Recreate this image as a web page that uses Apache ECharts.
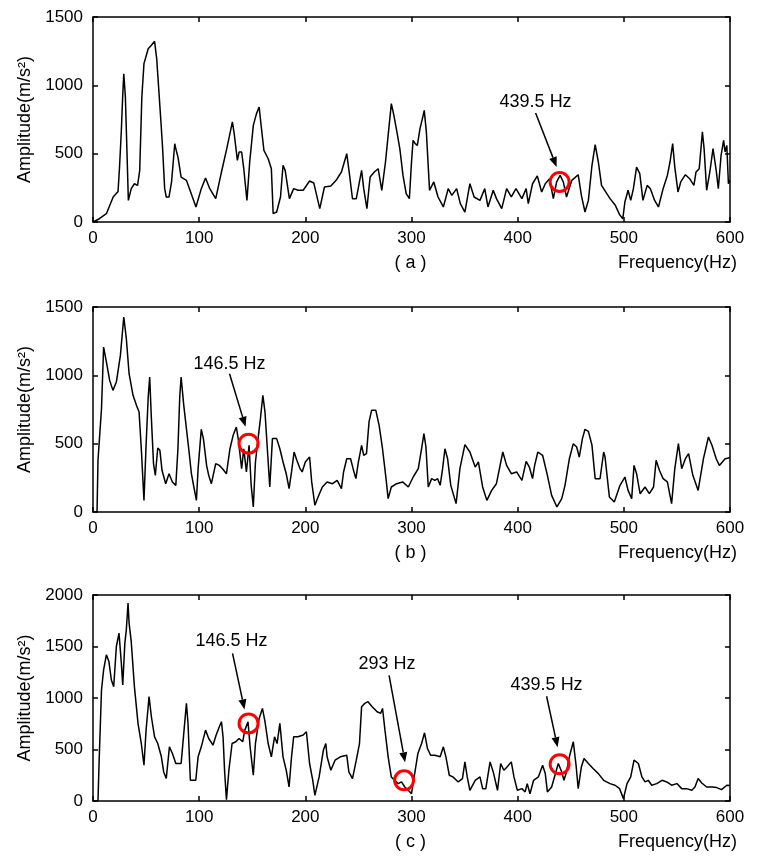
<!DOCTYPE html>
<html><head><meta charset="utf-8">
<script src="https://cdn.jsdelivr.net/npm/echarts@6/dist/echarts.min.js"></script>
<style>html,body{margin:0;padding:0;background:#fff}#c{width:761px;height:864px}</style>
</head><body><div id="c"></div>
<script>
// ---------- data ----------
const freqA=[0,6,12.6,19,23.6,25,26.7,28,29,30.5,32,33.3,36,39,42,44,46,48,52,55,58,60,62,64,65.5,67.5,69,71.6,74,77,78,80,83,88,97,102,106,110,115.6,121,126,131.3,133,136,137.6,140,142,145,147.6,151,154,156.5,158,161,165,168,169.7,173,176.6,179,181,185,189,193,198,204,208,213.6,218,224,229,234,239,241.3,244.4,248,253,255,258,261,265,268.6,272,275.5,278,281,283.4,286,289,292,295,298,300,301.5,303.5,305.5,308,311,312,314,317,321,325,330,334.6,338,342.5,346,350.3,355,359,364.5,369,372,377,380,385,389.6,394,398.4,404,408,410,414,418.5,422.6,426,430,433.6,436.7,440,443,446,451,457,460,463.4,466.6,470,473,476,479,484,487,492,496,499,501,504,506.5,509,512,515,518,522,525,529,532.6,537,541,543.5,546,548,551,553.6,558,562,566,568,571,574,575.6,578,581,584,587,589,591.6,594,595.4,597,598.5,600];
const ampA=[0,24,61,183,224,402,670,927,1085,915,512,158,244,280,268,378,915,1159,1268,1293,1322,1195,963,732,549,244,183,183,293,573,537,476,329,305,110,244,322,244,171,366,537,732,646,451,512,512,390,158,439,707,793,841,732,524,463,390,61,73,183,415,378,171,244,232,232,300,285,98,256,263,305,366,500,366,171,171,378,244,98,329,366,390,232,439,634,866,780,671,537,341,207,171,439,598,573,561,683,780,817,659,232,293,183,110,244,195,244,134,73,280,183,158,244,110,232,171,98,244,183,244,171,244,134,280,337,220,280,317,171,293,341,293,183,305,346,195,73,158,415,566,439,268,207,171,122,54,24,146,232,158,244,402,354,158,268,244,158,110,244,341,439,573,402,220,293,346,317,268,366,390,659,537,232,366,537,378,244,488,598,512,561,280,305];

const freqB=[3.8,4.7,8,10,12.6,15.7,18.8,22,25.8,29,31.4,34,37.7,41,43.4,45.5,48,50,52,53.4,55,57,58.7,61,63,65,68.5,71.6,74.8,78,80,81.7,83,85.5,88,90.5,92.7,95,97.4,99,102,104,107,109,111.5,115.6,119,122,125.7,129,132,135,137,140,142,144.5,147,149,151,153,155.5,157.7,160,162,164,166.5,169,173,176,179,182,184.7,187,189.4,192,195,197,200,204,206,209,212,216,220.5,225.6,230,234,236,239,242.6,245,247.6,250,253,255,257.6,260,262.4,266.4,269.5,272.7,276,278,281,286,291.6,297,301.6,306.4,309.5,311.7,313.6,315.8,319,322,324.6,327,329.3,331.5,334,337,342,345.6,350.3,355,360,363,367,371,375.5,380,386,389.6,394,399,404,408,411,414,416,419,423.5,428,432,437,441.5,444.6,448.7,452.4,455.6,458,461,463.4,466.6,470,473,477.6,481,482.3,486.4,491,496.4,501,504,507.4,509.6,512,515.3,520,524,528,530.4,533.5,537,541,545,548,551.4,554.5,558,561,565,570,575,579.7,583,587,590,595.4,598.5,600];
const ampB=[0,378,756,1207,1098,963,890,951,1146,1427,1268,1012,854,780,732,463,85,488,841,988,683,354,268,468,451,305,207,280,220,195,463,841,988,780,610,439,280,183,85,317,605,537,341,268,207,354,341,317,280,463,561,622,524,317,463,293,488,195,37,366,537,683,854,732,488,183,537,537,463,366,280,171,293,439,378,317,293,366,402,220,49,110,183,220,207,232,171,293,390,390,317,244,366,488,415,427,659,744,744,634,463,244,98,183,207,220,183,256,317,463,573,476,183,244,232,244,195,317,463,390,195,61,317,493,439,329,366,183,85,158,207,439,341,280,293,232,371,329,244,341,439,415,268,122,37,98,195,390,500,476,402,537,605,590,488,244,244,439,402,110,73,195,256,158,98,341,280,134,183,134,183,378,305,244,220,61,317,500,317,390,427,268,158,390,549,488,390,341,390,395,400];

const freqC=[4.7,5.7,8,10,12.6,15,17.3,19.5,22,24.5,26.7,28,30,31.4,33,34,36,39,42.4,45.5,48,50,52.8,55,58,61,64.4,66.6,69,72,74.8,78,83,85.5,88,89.5,91.7,96.8,99,102,106,109,113,116,119,121,122.5,124,125.7,128,131,134.5,137.6,141,143,146,148,151,153,156.5,159.6,162,165,168,171,173.4,176,179,182,184.7,187,189,193,198,201,204,207,209,213,217,219.3,220.5,224,228,233,239,241,244.4,248,251,253,256,259,263,267.6,271,272.7,275,278,281,284,287.5,290.6,293.7,297,300,303,306,309.5,312.3,315,318,322,327,330,332.4,335.6,339,344,348,350.3,352.5,355,360,364.5,367,370,374,377,381,384,387,390,394,396.5,399.7,404,407,409,411.6,415,419.5,423.5,426,428,432,436,438.3,441.5,443.6,446,448.7,452.4,455,457,460,462.5,466.6,471,476,481,487,491.7,496,499.6,503,506.5,509.6,513.7,517,520,523,526.3,531,536,540.4,545,550,554.5,559,564,567,570,573.4,578,583,587.5,592,597,600];
const ampC=[0,364,1078,1273,1419,1354,1175,1110,1500,1630,1338,1127,1533,1662,1922,1727,1549,1110,753,558,347,688,1013,818,623,558,429,282,218,526,461,364,364,656,948,753,201,201,429,526,688,607,542,640,721,770,623,282,13,299,558,575,607,575,688,770,526,250,558,802,899,770,558,429,623,558,753,429,299,136,429,623,623,640,672,364,201,55,234,494,558,429,299,396,429,445,282,218,396,558,916,948,964,916,867,851,899,688,429,234,201,169,185,136,104,71,266,461,558,662,510,445,445,429,526,429,250,234,185,218,380,234,104,201,234,120,120,380,282,104,364,299,331,380,234,104,120,88,169,71,201,234,347,266,88,136,282,364,282,201,282,429,575,347,120,331,412,364,315,266,201,169,153,120,23,169,234,396,364,234,185,201,153,169,201,185,153,169,120,120,104,136,218,175,136,136,130,110,153,150];

const xTicks=[0,100,200,300,400,500,600];
const yTicksAB=[0,500,1000,1500];
const yTicksC=[0,500,1000,1500,2000];
const panelLabels=['( a )','( b )','( c )'];
const xName='Frequency(Hz)';
const yName='Amplitude(m/s²)';

// annotations (data space)
const annFreqA=[439.5], annAmpA=[293], annTextA=['439.5 Hz'];
const annFreqB=[146.5], annAmpB=[500], annTextB=['146.5 Hz'];
const annFreqC=[146.5,293,439.5], annAmpC=[753,201,357], annTextC=['146.5 Hz','293 Hz','439.5 Hz'];

// ---------- layout (styles, pixel offsets) ----------
const FONT='Arial, "Liberation Sans", sans-serif';
const gridLayout=[
  {left:93,top:17,width:637,height:205},
  {left:93,top:307,width:637,height:205},
  {left:93,top:595,width:637,height:206}
];
// offsets relative to circle centre: text centre, arrow start, arrow tip
const annLayout=[
  [{tx:-24,ty:-80,sx:-24,sy:-69,ex:-3,ey:-15}],
  [{tx:-19,ty:-80,sx:-19,sy:-70,ex:-3,ey:-17}],
  [{tx:-17,ty:-82,sx:-16,sy:-70,ex:-4,ey:-14},
   {tx:-17,ty:-116,sx:-15,sy:-105,ex:1,ey:-18},
   {tx:-13,ty:-79,sx:-13,sy:-68,ex:-2,ey:-17}]
];

const seriesFreq=[freqA,freqB,freqC];
const seriesAmp=[ampA,ampB,ampC];
const annFreq=[annFreqA,annFreqB,annFreqC];
const annAmp=[annAmpA,annAmpB,annAmpC];
const annText=[annTextA,annTextB,annTextC];
const yTickSets=[yTicksAB,yTicksAB,yTicksC];

const chart=echarts.init(document.getElementById('c'),null,{renderer:'canvas'});

const plain=v=>String(v);
const lineStyleAxis={color:'#000',width:1.5};
const xAxes=[],yAxes=[],series=[];
for(let i=0;i<3;i++){
  const yt=yTickSets[i];
  const yStep=yt[1]-yt[0];
  xAxes.push({type:'value',gridIndex:i,position:'bottom',min:xTicks[0],max:xTicks[xTicks.length-1],interval:xTicks[1]-xTicks[0],
    axisLine:{show:true,onZero:false,lineStyle:lineStyleAxis},
    axisTick:{show:true,inside:true,length:5,lineStyle:lineStyleAxis},
    axisLabel:{show:true,margin:8,color:'#000',fontSize:17,fontFamily:FONT,showMinLabel:true,showMaxLabel:true,formatter:plain},
    splitLine:{show:false}});
  yAxes.push({type:'value',gridIndex:i,position:'left',min:yt[0],max:yt[yt.length-1],interval:yStep,
    name:yName,nameLocation:'middle',nameGap:55,nameRotate:90,
    nameTextStyle:{color:'#000',fontSize:18,fontFamily:FONT},
    axisLine:{show:true,onZero:false,lineStyle:lineStyleAxis},
    axisTick:{show:true,inside:true,length:5,lineStyle:lineStyleAxis},
    axisLabel:{show:true,margin:10,color:'#000',fontSize:17,fontFamily:FONT,showMinLabel:true,showMaxLabel:true,formatter:plain},
    splitLine:{show:false}});
  series.push({type:'line',xAxisIndex:i,yAxisIndex:i,
    data:seriesFreq[i].map((f,k)=>[f,seriesAmp[i][k]]),
    showSymbol:false,symbol:'none',animation:false,
    lineStyle:{color:'#000',width:1.5},
    markPoint:{symbol:'circle',symbolSize:19,animation:false,silent:true,
      itemStyle:{color:'rgba(0,0,0,0)',borderColor:'#ff0000',borderWidth:3},
      label:{show:false},
      data:annFreq[i].map((f,k)=>({coord:[f,annAmp[i][k]]}))}
  });
}
for(let i=0;i<3;i++){
  const yt=yTickSets[i];
  xAxes.push({type:'value',gridIndex:i,position:'top',min:xTicks[0],max:xTicks[xTicks.length-1],interval:xTicks[1]-xTicks[0],
    axisLine:{show:true,onZero:false,lineStyle:lineStyleAxis},
    axisTick:{show:true,inside:true,length:5,lineStyle:lineStyleAxis},
    axisLabel:{show:false},splitLine:{show:false}});
  yAxes.push({type:'value',gridIndex:i,position:'right',min:yt[0],max:yt[yt.length-1],interval:yt[1]-yt[0],
    axisLine:{show:true,onZero:false,lineStyle:lineStyleAxis},
    axisTick:{show:true,inside:true,length:5,lineStyle:lineStyleAxis},
    axisLabel:{show:false},splitLine:{show:false}});
}

chart.setOption({
  backgroundColor:'#fff',
  animation:false,
  grid:gridLayout.map(g=>Object.assign({containLabel:false},g)),
  xAxis:xAxes,yAxis:yAxes,series:series
});

// ---------- annotations: labels, arrows ----------
const graphics=[];
for(let i=0;i<3;i++){
  const g=gridLayout[i];
  const bottom=g.top+g.height;
  const right=g.left+g.width;
  graphics.push({type:'text',x:(chart.convertToPixel({seriesIndex:i},[300,0])[0])-1,y:bottom+41,
    style:{text:panelLabels[i],fill:'#000',font:'18px '+FONT,textAlign:'center',textVerticalAlign:'middle'}});
  graphics.push({type:'text',x:right+7,y:bottom+41,
    style:{text:xName,fill:'#000',font:'18px '+FONT,textAlign:'right',textVerticalAlign:'middle'}});
  annFreq[i].forEach((f,k)=>{
    const p=chart.convertToPixel({seriesIndex:i},[f,annAmp[i][k]]);
    const L=annLayout[i][k];
    graphics.push({type:'text',x:p[0]+L.tx,y:p[1]+L.ty,
      style:{text:annText[i][k],fill:'#000',font:'18px '+FONT,textAlign:'center',textVerticalAlign:'middle'}});
    const sx=p[0]+L.sx, sy=p[1]+L.sy, ex=p[0]+L.ex, ey=p[1]+L.ey;
    const dx=ex-sx, dy=ey-sy, len=Math.hypot(dx,dy), ux=dx/len, uy=dy/len;
    const hl=10, hw=4;
    const bx=ex-ux*hl, by=ey-uy*hl;
    graphics.push({type:'line',shape:{x1:sx,y1:sy,x2:bx,y2:by},style:{stroke:'#000',lineWidth:1.5}});
    graphics.push({type:'polygon',shape:{points:[[ex,ey],[bx-uy*hw,by+ux*hw],[bx+uy*hw,by-ux*hw]]},style:{fill:'#000'}});
  });
}
chart.setOption({graphic:graphics});
</script>
</body></html>
